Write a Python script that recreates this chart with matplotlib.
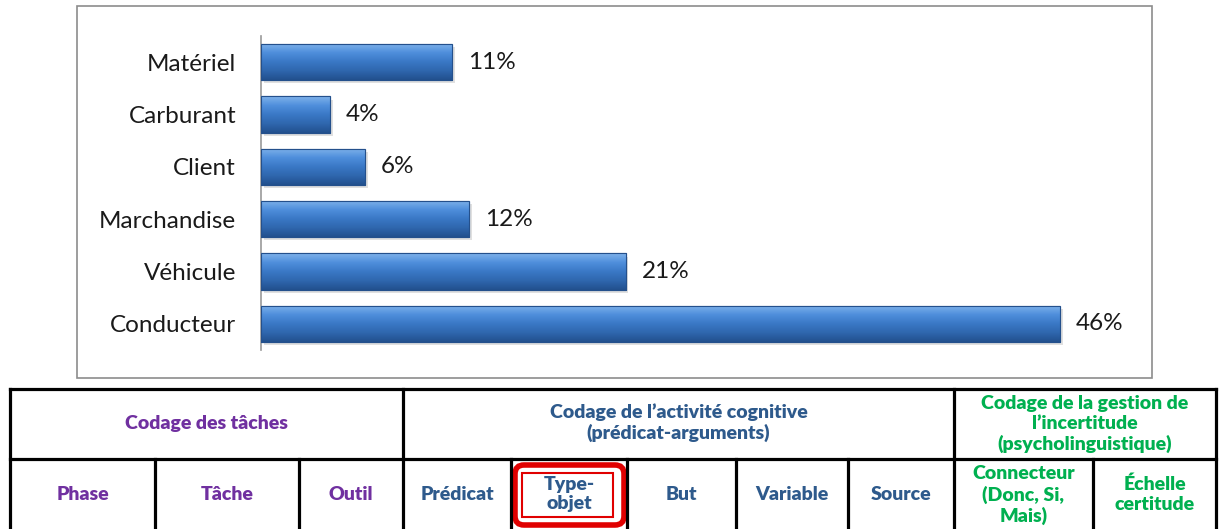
import matplotlib
matplotlib.use("Agg")
import matplotlib.pyplot as plt
import numpy as np
from matplotlib.colors import LinearSegmentedColormap
from matplotlib.patches import Rectangle, FancyBboxPatch

plt.rcParams['font.family'] = ['Lato', 'DejaVu Sans']

categories = ["Conducteur", "Véhicule", "Marchandise", "Client", "Carburant", "Matériel"]
values = [46, 21, 12, 6, 4, 11]
value_labels = ["46%", "21%", "12%", "6%", "4%", "11%"]

row1_labels = ["Codage des tâches",
               "Codage de l’activité cognitive\n(prédicat-arguments)",
               "Codage de la gestion de\nl’incertitude\n(psycholinguistique)"]
row2_labels = ["Phase", "Tâche", "Outil", "Prédicat", "Type-\nobjet", "But",
               "Variable", "Source", "Connecteur\n(Donc, Si,\nMais)", "Échelle\ncertitude"]

W, H = 1219, 529
fig = plt.figure(figsize=(W / 100, H / 100), dpi=100)
fig.patch.set_facecolor("white")

ov = fig.add_axes([0, 0, 1, 1], zorder=0)
ov.set_xlim(0, W)
ov.set_ylim(H, 0)
ov.axis("off")

ov.add_patch(Rectangle((77, 6), 1152 - 77, 378 - 6, fill=False, edgecolor="#8c8c8c", lw=1.2))

ax = fig.add_axes([261 / W, 1 - 350 / H, (1150 - 261) / W, (350 - 36) / H], zorder=2)
ax.patch.set_alpha(0)
ypos = np.arange(len(categories))
bar_h = 0.69
bars = ax.barh(ypos, values, height=bar_h, color="#3b7bcc", edgecolor="#24508c", linewidth=0.8, zorder=3)

cmap = LinearSegmentedColormap.from_list("bev", ["#7fb2ea", "#4f8fdc", "#3a78c6", "#2f67ae", "#22508e"])
grad = np.linspace(0, 1, 64).reshape(-1, 1)
for b, v, y in zip(bars, values, ypos):
    ax.add_patch(Rectangle((0.15, y - bar_h / 2 - 0.06), v, bar_h, color="#000000", alpha=0.12, lw=0, zorder=2))
    im = ax.imshow(grad, extent=(0, v, y - bar_h / 2, y + bar_h / 2), origin="upper",
                   aspect="auto", cmap=cmap, zorder=4)
    im.set_clip_path(b)
    ax.add_patch(Rectangle((0, y - bar_h / 2), v, bar_h, fill=False, edgecolor="#24508c", lw=0.8, zorder=5))

for v, y, lab in zip(values, ypos, value_labels):
    ax.text(v + 0.9, y, lab, va="center", ha="left", fontsize=17.5, color="#1a1a1a")

ax.set_xlim(0, (1150 - 261) / 17.37)
ax.set_ylim(-0.5, len(categories) - 0.5)
ax.set_yticks(ypos)
ax.set_yticklabels(categories, fontsize=17.5, color="#1a1a1a")
ax.tick_params(axis="y", length=0, pad=18)
ax.set_xticks([])
for s in ["top", "right", "bottom"]:
    ax.spines[s].set_visible(False)
ax.spines["left"].set_color("#999999")
ax.spines["left"].set_linewidth(1.2)

purple, blue, green = "#7030a0", "#2e5a8c", "#00b050"
top, mid, bot = 389, 459, 540
xs = [10, 155, 299, 403, 511, 627, 736, 848, 954, 1093, 1216]
lw = 2.3
ov.plot([xs[0], xs[-1]], [top, top], color="black", lw=lw, solid_capstyle="projecting")
ov.plot([xs[0], xs[-1]], [mid, mid], color="black", lw=lw)
for x in [xs[0], xs[3], xs[8], xs[-1]]:
    ov.plot([x, x], [top, bot], color="black", lw=lw)
for x in xs[1:-1]:
    if x not in (xs[3], xs[8]):
        ov.plot([x, x], [mid, bot], color="black", lw=lw)

fs = 14
ls = 1.2
groups = [(xs[0], xs[3], purple), (xs[3], xs[8], blue), (xs[8], xs[-1], green)]
row1_y = [424, 423, 424]
for (x0, x1, c), lab, yy in zip(groups, row1_labels, row1_y):
    ov.text((x0 + x1) / 2, yy, lab, ha="center", va="center", fontsize=fs,
            fontweight="heavy", color=c, linespacing=ls)

colors2 = [purple] * 3 + [blue] * 5 + [green] * 2
row2_y = [494] * 8 + [495, 494]
for i, (lab, c) in enumerate(zip(row2_labels, colors2)):
    ov.text((xs[i] + xs[i + 1]) / 2, row2_y[i], lab, ha="center", va="center", fontsize=fs,
            fontweight="heavy", color=c, linespacing=ls)

ov.add_patch(FancyBboxPatch((515, 465), 626 - 515 - 2, 525 - 465, boxstyle="round,pad=0,rounding_size=9",
                            fill=False, edgecolor="#e00000", lw=4))
ov.add_patch(Rectangle((522, 473), 613 - 522, 517 - 473, fill=False, edgecolor="#e00000", lw=1.5))

fig.savefig("out.png", dpi=100, facecolor="white")
